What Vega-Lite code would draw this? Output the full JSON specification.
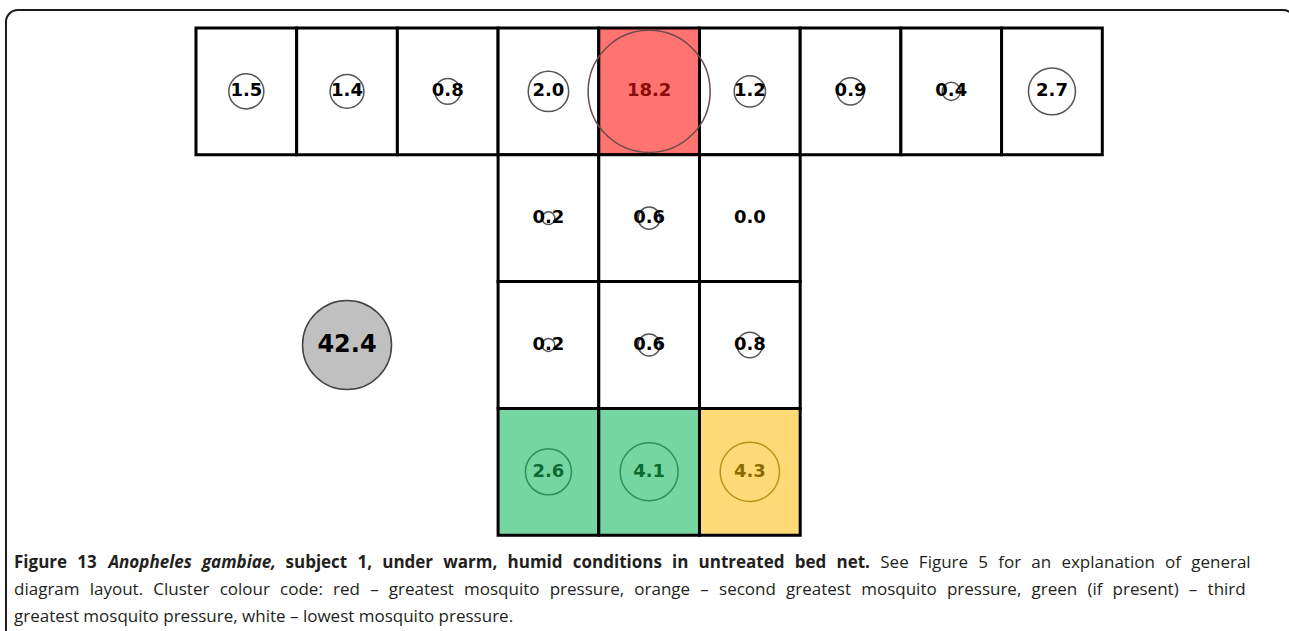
{
  "$schema": "https://vega.github.io/schema/vega-lite/v6.json",
  "width": 1289,
  "height": 631,
  "autosize": {"type": "fit", "contains": "padding"},
  "padding": 0,
  "background": "white",
  "config": {"view": {"stroke": null}},
  "resolve": {"scale": {"x": "independent", "y": "independent"}},
  "layer": [
    {
      "data": {"values": [{"part": "frame"}]},
      "layer": [
        {
          "mark": {"type": "rect", "fill": "transparent", "stroke": "#1a1a1a", "strokeWidth": 2, "cornerRadius": 12, "clip": true},
          "encoding": {
            "x": {"datum": -1.887, "type": "quantitative", "scale": {"domain": [-1.9464, 10.854], "nice": false, "zero": false}, "axis": null},
            "x2": {"datum": 10.914},
            "y": {"datum": -0.142, "type": "quantitative", "scale": {"domain": [-0.2208, 4.7555], "nice": false, "zero": false, "reverse": true}, "axis": null},
            "y2": {"datum": 5.3}
          }
        },
        {
          "data": {"values": [{"t": "Figure\u2002\u200a13"}]},
          "mark": {"type": "text", "align": "left", "baseline": "middle", "font": "Open Sans", "fontSize": 17, "fontWeight": "bold", "color": "#231f20"},
          "encoding": {
            "x": {"datum": -1.8073, "type": "quantitative"},
            "y": {"datum": 4.219, "type": "quantitative"},
            "text": {"field": "t"}
          }
        },
        {
          "data": {"values": [{"t": "Anopheles\u2002\u200agambiae,"}]},
          "mark": {"type": "text", "align": "left", "baseline": "middle", "font": "Open Sans", "fontSize": 17, "fontWeight": "bold", "fontStyle": "italic", "color": "#231f20"},
          "encoding": {
            "x": {"datum": -0.8699, "type": "quantitative"},
            "y": {"datum": 4.219, "type": "quantitative"},
            "text": {"field": "t"}
          }
        },
        {
          "data": {"values": [{"t": "subject\u2002\u200a1,\u2002\u200aunder\u2002\u200awarm,\u2002\u200ahumid\u2002\u200aconditions\u2002\u200ain\u2002\u200auntreated\u2002\u200abed\u2002\u200anet."}]},
          "mark": {"type": "text", "align": "left", "baseline": "middle", "font": "Open Sans", "fontSize": 17, "fontWeight": "bold", "color": "#231f20"},
          "encoding": {
            "x": {"datum": 0.8888, "type": "quantitative"},
            "y": {"datum": 4.219, "type": "quantitative"},
            "text": {"field": "t"}
          }
        },
        {
          "data": {"values": [{"t": "See\u2002\u200aFigure\u2002\u200a5\u2002\u200afor\u2002\u200aan\u2002\u200aexplanation\u2002\u200aof\u2002\u200ageneral"}]},
          "mark": {"type": "text", "align": "left", "baseline": "middle", "font": "Open Sans", "fontSize": 17, "color": "#231f20"},
          "encoding": {
            "x": {"datum": 6.795, "type": "quantitative"},
            "y": {"datum": 4.219, "type": "quantitative"},
            "text": {"field": "t"}
          }
        },
        {
          "data": {"values": [{"t": "diagram\u2002\u200alayout.\u2002\u200aCluster\u2002\u200acolour\u2002\u200acode:\u2002\u200ared\u2002\u200a–\u2002\u200agreatest\u2002\u200amosquito\u2002\u200apressure,\u2002\u200aorange\u2002\u200a–\u2002\u200asecond\u2002\u200agreatest\u2002\u200amosquito\u2002\u200apressure,\u2002\u200agreen\u2002\u200a(if\u2002\u200apresent)\u2002\u200a–\u2002\u200athird"}]},
          "mark": {"type": "text", "align": "left", "baseline": "middle", "font": "Open Sans", "fontSize": 17, "color": "#231f20"},
          "encoding": {
            "x": {"datum": -1.8073, "type": "quantitative"},
            "y": {"datum": 4.432, "type": "quantitative"},
            "text": {"field": "t"}
          }
        },
        {
          "data": {"values": [{"t": "greatest mosquito pressure, white – lowest mosquito pressure."}]},
          "mark": {"type": "text", "align": "left", "baseline": "middle", "font": "Open Sans", "fontSize": 17, "color": "#231f20"},
          "encoding": {
            "x": {"datum": -1.8073, "type": "quantitative"},
            "y": {"datum": 4.645, "type": "quantitative"},
            "text": {"field": "t"}
          }
        }
      ]
    },
    {
      "data": {
        "values": [
          {"col": 0, "row": 0, "value": 1.5, "cluster": "white"},
          {"col": 1, "row": 0, "value": 1.4, "cluster": "white"},
          {"col": 2, "row": 0, "value": 0.8, "cluster": "white"},
          {"col": 3, "row": 0, "value": 2.0, "cluster": "white"},
          {"col": 4, "row": 0, "value": 18.2, "cluster": "red"},
          {"col": 5, "row": 0, "value": 1.2, "cluster": "white"},
          {"col": 6, "row": 0, "value": 0.9, "cluster": "white"},
          {"col": 7, "row": 0, "value": 0.4, "cluster": "white"},
          {"col": 8, "row": 0, "value": 2.7, "cluster": "white"},
          {"col": 3, "row": 1, "value": 0.2, "cluster": "white"},
          {"col": 4, "row": 1, "value": 0.6, "cluster": "white"},
          {"col": 5, "row": 1, "value": 0.0, "cluster": "white"},
          {"col": 3, "row": 2, "value": 0.2, "cluster": "white"},
          {"col": 4, "row": 2, "value": 0.6, "cluster": "white"},
          {"col": 5, "row": 2, "value": 0.8, "cluster": "white"},
          {"col": 3, "row": 3, "value": 2.6, "cluster": "green"},
          {"col": 4, "row": 3, "value": 4.1, "cluster": "green"},
          {"col": 5, "row": 3, "value": 4.3, "cluster": "orange"}
        ]
      },
      "layer": [
        {
          "mark": {"type": "rect", "stroke": "#000000", "strokeWidth": 3},
          "encoding": {
            "x": {"field": "col", "type": "ordinal", "scale": {"type": "band", "domain": [-1, 0, 1, 2, 3, 4, 5, 6, 7, 8, 9], "paddingInner": 0, "paddingOuter": 0.9, "align": 0.5256}, "axis": null},
            "y": {"field": "row", "type": "ordinal", "scale": {"type": "band", "domain": [0, 1, 2, 3], "paddingInner": 0, "paddingOuter": 0.488, "align": 0.226}, "axis": null},
            "fill": {"field": "cluster", "type": "nominal", "scale": {"domain": ["white", "red", "green", "orange"], "range": ["#ffffff", "#ff7470", "#76d6a1", "#ffda76"]}, "legend": null}
          }
        },
        {
          "mark": {"type": "point", "shape": "circle", "filled": false, "strokeWidth": 1.5, "opacity": 1},
          "encoding": {
            "x": {"field": "col", "type": "ordinal"},
            "y": {"field": "row", "type": "ordinal"},
            "size": {"field": "value", "type": "quantitative", "scale": {"type": "linear", "domain": [0, 18.2], "range": [0, 14884]}, "legend": null},
            "stroke": {"field": "cluster", "type": "nominal", "scale": {"domain": ["white", "red", "green", "orange"], "range": ["#555555", "#6e4a4a", "#2f8f57", "#b8951a"]}, "legend": null}
          }
        },
        {
          "mark": {"type": "text", "font": "DejaVu Sans", "fontWeight": "bold", "fontSize": 18, "baseline": "middle", "align": "center"},
          "encoding": {
            "x": {"field": "col", "type": "ordinal"},
            "y": {"field": "row", "type": "ordinal"},
            "text": {"field": "value", "type": "quantitative", "format": ".1f"},
            "color": {"field": "cluster", "type": "nominal", "scale": {"domain": ["white", "red", "green", "orange"], "range": ["#000000", "#8b0a0a", "#0d6b32", "#8b6b00"]}, "legend": null}
          }
        },
        {
          "data": {"values": [{"col": 1, "row": 2, "value": 42.4}]},
          "mark": {"type": "point", "shape": "circle", "filled": true, "fill": "#c0c0c0", "stroke": "#444444", "strokeWidth": 1.5, "size": 7921, "opacity": 1},
          "encoding": {
            "x": {"field": "col", "type": "ordinal"},
            "y": {"field": "row", "type": "ordinal"}
          }
        },
        {
          "data": {"values": [{"col": 1, "row": 2, "value": 42.4}]},
          "mark": {"type": "text", "font": "DejaVu Sans", "fontWeight": "bold", "fontSize": 24, "baseline": "middle", "align": "center", "color": "#000000"},
          "encoding": {
            "x": {"field": "col", "type": "ordinal"},
            "y": {"field": "row", "type": "ordinal"},
            "text": {"field": "value", "type": "quantitative", "format": ".1f"}
          }
        }
      ]
    }
  ]
}
